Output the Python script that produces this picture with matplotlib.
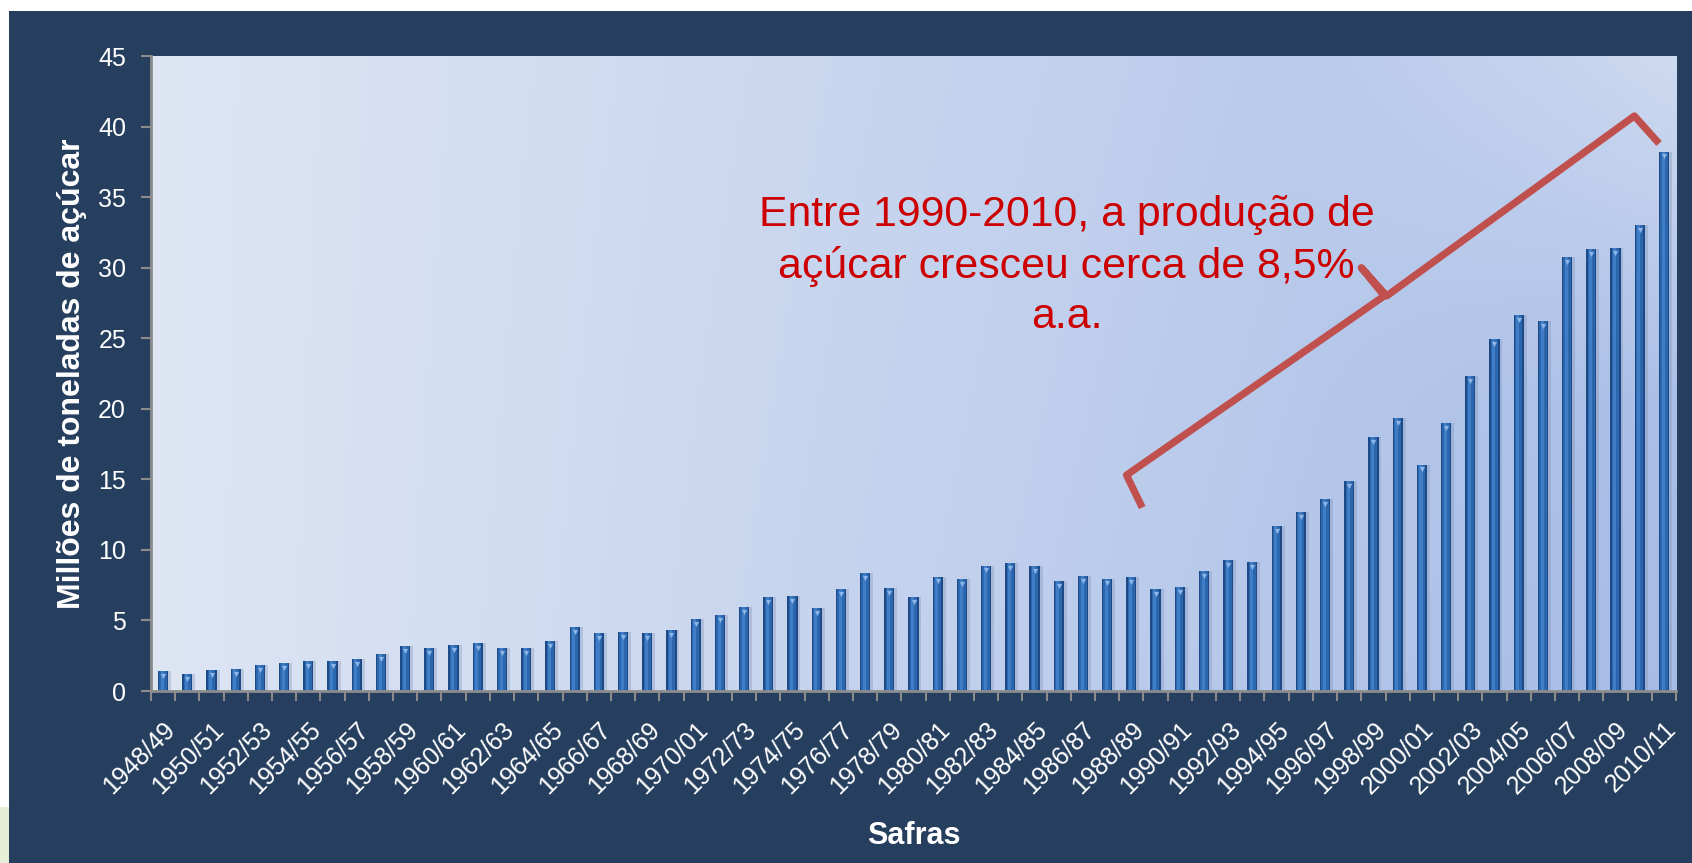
import numpy as np
import matplotlib
matplotlib.use("Agg")
import matplotlib.pyplot as plt
from matplotlib.patches import Rectangle

plt.rcParams['font.family'] = ['Liberation Sans', 'DejaVu Sans']

# ---------------- data ----------------
safras = ["1948/49", "1949/50", "1950/51", "1951/52", "1952/53", "1953/54", "1954/55",
          "1955/56", "1956/57", "1957/58", "1958/59", "1959/60", "1960/61", "1961/62",
          "1962/63", "1963/64", "1964/65", "1965/66", "1966/67", "1967/68", "1968/69",
          "1969/70", "1970/01", "1971/72", "1972/73", "1973/74", "1974/75", "1975/76",
          "1976/77", "1977/78", "1978/79", "1979/80", "1980/81", "1981/82", "1982/83",
          "1983/84", "1984/85", "1985/86", "1986/87", "1987/88", "1988/89", "1989/90",
          "1990/91", "1991/92", "1992/93", "1993/94", "1994/95", "1995/96", "1996/97",
          "1997/98", "1998/99", "1999/00", "2000/01", "2001/02", "2002/03", "2003/04",
          "2004/05", "2005/06", "2006/07", "2007/08", "2008/09", "2009/10", "2010/11"]
producao = [1.39, 1.23, 1.46, 1.56, 1.82, 1.96, 2.13, 2.10, 2.24, 2.65, 3.21, 3.02,
            3.24, 3.38, 3.05, 3.07, 3.54, 4.51, 4.10, 4.21, 4.09, 4.33, 5.08, 5.37,
            5.93, 6.69, 6.74, 5.86, 7.21, 8.34, 7.33, 6.64, 8.11, 7.94, 8.89, 9.10,
            8.84, 7.80, 8.15, 7.97, 8.06, 7.21, 7.35, 8.53, 9.27, 9.13, 11.70, 12.65,
            13.62, 14.85, 18.01, 19.36, 16.05, 18.98, 22.34, 24.94, 26.62, 26.21,
            30.73, 31.30, 31.37, 33.05, 38.23]
y_ticks = [0, 5, 10, 15, 20, 25, 30, 35, 40, 45]
ylabel = "Millões de toneladas de açúcar"
xlabel = "Safras"
nota = "Entre 1990-2010, a produção de\naçúcar cresceu cerca de 8,5%\na.a."

W, H = 1692, 863
fig = plt.figure(figsize=(W / 100, H / 100), dpi=100)
fig.patch.set_facecolor('white')
fig.add_artist(Rectangle((9 / W, 0), 1 - 9 / W, (H - 11) / H, transform=fig.transFigure,
                         facecolor='#263F5F', edgecolor='none', zorder=0))
fig.add_artist(Rectangle((0, 0), 9 / W, 56 / H, transform=fig.transFigure,
                         facecolor='#E6EFD6', edgecolor='none', zorder=0))

ax = fig.add_axes([151 / W, 172 / H, 1525 / W, 635 / H])
n = len(producao)
x = np.arange(n)
ax.set_xlim(-0.5, n - 0.5)
ax.set_ylim(0, 45)

# plot-area gradient background
nx, ny = 300, 150
u = np.linspace(0, 1, nx)[None, :]
v = np.linspace(1, 0, ny)[:, None]
c_left = np.array([222, 230, 244]) / 255
c_right = np.array([166, 188, 230]) / 255
c_light = np.array([214, 224, 242]) / 255
t = np.clip(u * (1.0 - 0.15 * v), 0, 1)[..., None]
img = c_left * (1 - t) + c_right * t
lt = (np.clip((u - 0.75) / 0.25, 0, 1) * np.clip((v - 0.45) / 0.55, 0, 1))[..., None] * 0.8
img = img * (1 - lt) + c_light * lt
ax.imshow(img, extent=[-0.5, n - 0.5, 0, 45], aspect='auto', zorder=0, interpolation='bilinear')

# bars with a cylinder-like shading
bw = 0.42
ax.bar(x + 0.12, producao, width=bw, color='#7F93B8', alpha=0.35, zorder=1, linewidth=0)
ax.bar(x, producao, width=bw, color='#1D4A86', zorder=2, linewidth=0)
ax.bar(x, producao, width=bw * 0.72, color='#2C67AE', zorder=3, linewidth=0)
ax.bar(x - bw * 0.08, producao, width=bw * 0.3, color='#3F7DC6', zorder=4, linewidth=0)
ax.scatter(x, np.array(producao) - 0.35, marker='v', s=14, color='#8CB6E8', zorder=5, linewidths=0)

# axes styling
for s in ['top', 'right']:
    ax.spines[s].set_visible(False)
for s in ['left', 'bottom']:
    ax.spines[s].set_color('#8C8C8C')
    ax.spines[s].set_linewidth(2)
    ax.spines[s].set_zorder(6)

ax.set_yticks(y_ticks)
ax.set_yticklabels([str(t) for t in y_ticks])
ax.tick_params(axis='y', colors='#8C8C8C', labelcolor='white', labelsize=18,
               length=7, width=1.5, pad=11)

ax.set_xticks(x[::2])
ax.set_xticklabels([safras[i] for i in x[::2]], rotation=45, ha='right', va='top',
                   rotation_mode='anchor')
ax.set_xticks(np.arange(-0.5, n, 1), minor=True)
ax.tick_params(axis='x', which='major', length=0, labelcolor='white', labelsize=18, pad=19)
ax.tick_params(axis='x', which='minor', length=7, width=1.5, color='#8C8C8C')

ax.set_ylabel(ylabel, color='white', fontsize=23, fontweight='bold', va='center')
ax.yaxis.set_label_coords(-0.052, 0.50)
ax.set_xlabel(xlabel, color='white', fontsize=22, fontweight='bold', va='center')
ax.xaxis.set_label_coords(0.5, -0.228)

# annotation text
ax.text(37.32, 30.1, nota, color='#CC0000', fontsize=30.8, ha='center', va='center',
        linespacing=1.34, zorder=7)

# brace (in data coordinates)
bx = [40.45, 39.8, 50.45, 49.5, 50.55, 60.78, 61.8]
by = [13.0, 15.3, 28.0, 30.0, 28.0, 40.75, 38.8]
ax.plot(bx, by, color='#C0504D', lw=5.2, solid_joinstyle='round', solid_capstyle='butt',
        zorder=8, clip_on=False)

fig.savefig("out.png", dpi=100, facecolor=fig.get_facecolor())
